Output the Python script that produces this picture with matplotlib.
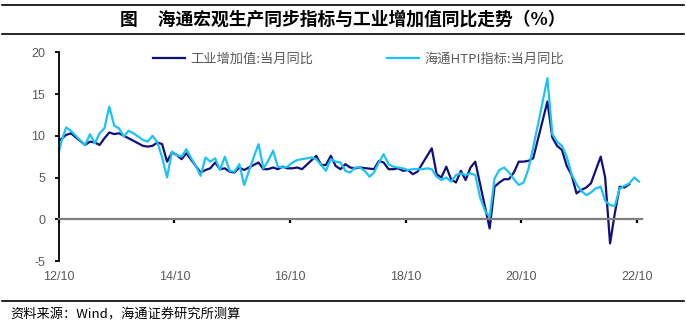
import numpy as np
import pandas as pd
import matplotlib
matplotlib.use('Agg')
import matplotlib.pyplot as plt
from matplotlib.lines import Line2D
import matplotlib.dates as mdates

plt.rcParams['font.family'] = ['Noto Sans CJK SC', 'DejaVu Sans']
plt.rcParams['axes.unicode_minus'] = False

# 月度数据, 2012-09 起
months = pd.date_range('2012-09-01', '2022-10-01', freq='MS')

# 工业增加值:当月同比 (1-2月无单月值, 留空)
iva_yoy = [
    9.2, 9.6, 10.1, 10.3,
    None, None, 8.9, 9.3, 9.2, 8.9, 9.7, 10.4, 10.2, 10.3, 10.0, 9.7,
    None, None, 8.8, 8.7, 8.8, 9.2, 9.0, 6.9, 8.0, 7.7, 7.2, 7.9,
    None, None, 5.6, 5.9, 6.1, 6.8, 6.0, 6.1, 5.7, 5.6, 6.2, 5.9,
    None, None, 6.8, 6.0, 6.0, 6.2, 6.0, 6.3, 6.1, 6.1, 6.2, 6.0,
    None, None, 7.6, 6.5, 6.5, 7.6, 6.4, 6.0, 6.6, 6.2, 6.1, 6.2,
    None, None, 6.0, 7.0, 6.8, 6.0, 6.0, 6.1, 5.8, 5.9, 5.4, 5.7,
    None, None, 8.5, 5.4, 5.0, 6.3, 4.8, 4.4, 5.8, 4.7, 6.2, 6.9,
    None, None, -1.1, 3.9, 4.4, 4.8, 4.8, 5.6, 6.9, 6.9, 7.0, 7.3,
    None, None, 14.1, 9.8, 8.8, 8.3, 6.4, 5.3, 3.1, 3.5, 3.8, 4.3,
    None, 7.5, 5.0, -2.9, 0.7, 3.9, 3.8, 4.2,
]

# 海通HTPI指标:当月同比
htpi_yoy = [
    6.9, 9.2, 11.0, 10.6,
    10.0, 9.4, 8.9, 10.2, 9.1, 10.3, 10.9, 13.5, 11.2, 10.9, 9.9, 10.6,
    10.3, 9.9, 9.5, 9.3, 10.0, 9.2, 7.4, 5.0, 8.1, 7.7, 7.5, 8.4,
    7.3, 6.3, 5.2, 7.4, 6.9, 7.3, 5.9, 7.5, 5.8, 5.7, 6.6, 4.1,
    5.8, 7.5, 9.0, 6.1, 7.0, 8.2, 6.3, 6.2, 6.3, 6.8, 7.1, 7.2,
    7.3, 7.4, 7.2, 6.5, 5.8, 7.2, 6.9, 6.8, 5.8, 5.6, 6.2, 6.2,
    5.8, 5.1, 5.6, 6.8, 7.8, 6.6, 6.3, 6.2, 6.1, 5.9, 6.0, 6.0,
    6.0, 6.1, 6.0, 5.1, 4.7, 5.0, 4.5, 5.3, 5.5, 5.3, 5.5, 5.3,
    2.6, 1.0, 0.3, 4.9, 5.9, 6.2, 5.6, 4.8, 4.1, 4.4, 6.0, 8.6,
    11.4, 14.3, 16.9, 10.2, 9.3, 8.8, 7.5, 5.4, 4.2, 3.4, 2.9, 3.2,
    3.7, 3.9, 2.2, 1.7, 1.6, 3.7, 4.0, 4.3, 5.0, 4.5,
]

tick_labels = ['12/10', '14/10', '16/10', '18/10', '20/10', '22/10']
y_ticks = [-5, 0, 5, 10, 15, 20]

navy = '#10107a'
sky = '#1cc3f2'
gray_txt = '#595959'

# 点画在月中
mid = months + pd.Timedelta(days=14)
iva = pd.Series(iva_yoy, index=mid[:len(iva_yoy)], dtype=float).dropna()
htpi = pd.Series(htpi_yoy, index=mid[:len(htpi_yoy)], dtype=float)

fig = plt.figure(figsize=(6.86, 3.27), dpi=100)
W, H = 686, 327
ax = fig.add_axes([59 / W, 1 - 261 / H, (641.7 - 59) / W, (261 - 52.3) / H])

ax.plot(iva.index, iva.values, color=navy, lw=1.6, label='工业增加值:当月同比',
        solid_joinstyle='round')
ax.plot(htpi.index, htpi.values, color=sky, lw=1.6, label='海通HTPI指标:当月同比',
        solid_joinstyle='round')

ax.set_ylim(-5, 20)
ax.set_yticks(y_ticks)
ax.set_xlim(pd.Timestamp('2012-10-01'), pd.Timestamp('2022-11-01'))
tick_pos = [pd.to_datetime('20' + t, format='%Y/%m') for t in tick_labels]
ax.set_xticks(tick_pos)
ax.set_xticklabels(tick_labels)

for s in ['top', 'right']:
    ax.spines[s].set_visible(False)
ax.spines['left'].set_color('black')
ax.spines['left'].set_linewidth(1.3)
ax.spines['bottom'].set_position(('data', 0))
ax.spines['bottom'].set_color('#7f7f7f')
ax.spines['bottom'].set_linewidth(1.6)

ax.tick_params(axis='y', direction='out', length=3, width=1.3, color='black',
               labelcolor=gray_txt, labelsize=9, pad=7)
ax.tick_params(axis='x', direction='out', length=3, width=1.6, color='black',
               labelcolor=gray_txt, labelsize=9, pad=34)
for lab in ax.get_xticklabels() + ax.get_yticklabels():
    lab.set_fontfamily(['Liberation Sans', 'DejaVu Sans'])

leg = ax.legend(loc='upper left', bbox_to_anchor=(0.161, 1.0), ncol=2,
                frameon=False, fontsize=9.5, handlelength=2.45, handletextpad=0.38,
                columnspacing=5.6, borderpad=0, borderaxespad=0)
for t in leg.get_texts():
    t.set_color(gray_txt)

# 标题与来源
for yp in [5, 34, 300.7]:
    fig.add_artist(Line2D([0.003, 0.997], [1 - yp / H] * 2, color='black', lw=1.2))
fig.text(0.5, 1 - 20 / H, '图     海通宏观生产同步指标与工业增加值同比走势（%）',
         ha='center', va='center', fontsize=12.8, fontweight='bold')
fig.text(10 / W, 1 - 315 / H, '资料来源：Wind，海通证券研究所测算',
         ha='left', va='center', fontsize=9.5)

fig.savefig('out.png', dpi=100)
